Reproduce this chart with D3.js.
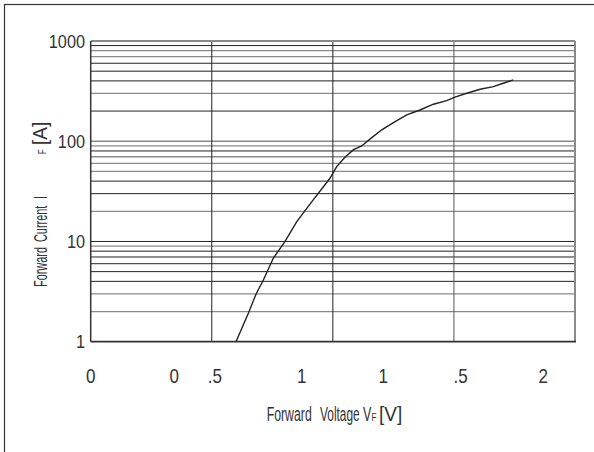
<!DOCTYPE html>
<html>
<head>
<meta charset="utf-8">
<script src="https://cdn.jsdelivr.net/npm/d3@7"></script>
<style>
  body { margin: 0; background: #fff; }
  svg text { font-family: "Liberation Sans", Arial, sans-serif; fill: #333; }
</style>
</head>
<body>
<svg id="chart" width="594" height="452"></svg>
<script>
// forward voltage [V] vs forward current [A]
const voltage = [0.600, 0.651, 0.683, 0.713, 0.754, 0.802, 0.851, 0.919, 0.988, 1.016, 1.050, 1.084,
  1.119, 1.153, 1.202, 1.250, 1.305, 1.360, 1.415, 1.470, 1.504, 1.553, 1.608, 1.663, 1.704, 1.745];
const current = [1.0, 1.92, 2.99, 4.13, 6.8, 9.95, 15.8, 26, 42.7, 55.8, 69.2, 81.9,
  89.8, 105, 130, 153, 183, 205, 234, 254, 275, 301, 330, 351, 379, 409];

const yTicks = [1, 10, 100, 1000];
const xGrid = [0.5, 1, 1.5];
// x tick label pieces as printed on the original sheet
const xTickText = ["0", "0", ".5", "1", "1", ".5", "2"];
const xTickAt = [0, 0.345, 0.513, 0.871, 1.208, 1.528, 1.869];
// grid lines drawn lighter
const lightLines = [1000, 800, 700, 300, 100, 90, 70, 60, 50, 20, 9, 3, 2];

const svg = d3.select('#chart');
const x = d3.scaleLinear().domain([0, 2]).range([90.7, 575]);
const y = d3.scaleLog().domain([1, 1000]).range([341.7, 41]);

// condensed lettering: a text squeezed horizontally around its anchor
function label(parent, px, py, str, size, sx, anchor) {
  const t = parent.append('g')
    .attr('transform', `translate(${px},${py}) scale(${sx},1)`)
    .append('text')
    .attr('font-size', size)
    .attr('text-anchor', anchor || 'start')
    .text(str);
  return t;
}

// outer frame
svg.append('rect')
  .attr('x', 4.5).attr('y', 4.5)
  .attr('width', 640).attr('height', 500)
  .attr('fill', 'none').attr('stroke', '#333').attr('stroke-width', 1.2);

// horizontal grid: 1..9 per decade
const gridVals = [];
for (let d = 1; d <= 100; d *= 10) {
  for (let m = 1; m <= 9; m++) gridVals.push(m * d);
}

svg.append('g').selectAll('line')
  .data(gridVals.filter(v => v > 1))
  .join('line')
  .attr('x1', x(0)).attr('x2', x(2))
  .attr('y1', d => y(d)).attr('y2', d => y(d))
  .attr('stroke', d => lightLines.includes(d) ? '#8a8a8a' : '#222')
  .attr('stroke-width', d => lightLines.includes(d) ? 1.3 : 1);

// vertical grid
svg.append('g').selectAll('line')
  .data(xGrid)
  .join('line')
  .attr('x1', d => x(d)).attr('x2', d => x(d))
  .attr('y1', y(1000)).attr('y2', y(1))
  .attr('stroke', d => d === 1.5 ? '#555' : '#222')
  .attr('stroke-width', 1);

// plot frame
svg.append('line').attr('x1', x(0)).attr('x2', x(2)).attr('y1', y(1000)).attr('y2', y(1000))
  .attr('stroke', '#8a8a8a').attr('stroke-width', 2);
svg.append('line').attr('x1', x(2)).attr('x2', x(2)).attr('y1', y(1000)).attr('y2', y(1))
  .attr('stroke', '#8a8a8a').attr('stroke-width', 2);
svg.append('line').attr('x1', x(0)).attr('x2', x(0)).attr('y1', y(1000)).attr('y2', y(1))
  .attr('stroke', '#333').attr('stroke-width', 1.5);
svg.append('line').attr('x1', x(0)).attr('x2', x(2) + 1).attr('y1', y(1)).attr('y2', y(1))
  .attr('stroke', '#333').attr('stroke-width', 1.8);

// curve
const pts = voltage.map((v, i) => [v, current[i]]);
svg.append('path')
  .datum(pts)
  .attr('d', d3.line().x(d => x(d[0])).y(d => y(d[1])))
  .attr('fill', 'none')
  .attr('stroke', '#222')
  .attr('stroke-width', 1.4);

// y tick labels
const yl = svg.append('g');
yTicks.forEach(d => label(yl, 85, y(d), d, 18.5, 0.88, 'end').attr('dy', '0.36em'));

// x tick labels
const xl = svg.append('g');
xTickText.forEach((s, i) => label(xl, x(xTickAt[i]), 383, s, 20, 0.85, 'middle'));

// x axis title
const xt = svg.append('g');
label(xt, 266.7, 421, 'Forward', 19.5, 0.63);
label(xt, 320, 421, 'Voltage', 19.5, 0.61);
label(xt, 363, 421, 'V', 19.5, 0.64);
label(xt, 371.5, 421, 'F', 11, 0.75);
label(xt, 379, 421, '[V]', 20, 0.95).attr('fill', '#666');

// y axis title
const ytg = svg.append('g').attr('transform', 'translate(47,287) rotate(-90)');
label(ytg, 0, 0, 'Forward', 18.5, 0.59);
label(ytg, 45, 0, 'Current', 18.5, 0.59);
label(ytg, 88, 0, 'I', 18.5, 0.6);
label(ytg, 133, -1, 'F', 10, 0.75);
label(ytg, 142, 0, '[A]', 20, 0.95).attr('fill', '#666');
</script>
</body>
</html>
